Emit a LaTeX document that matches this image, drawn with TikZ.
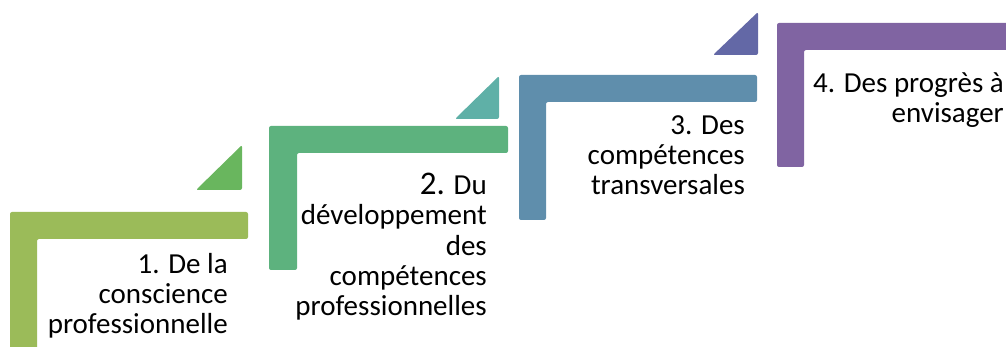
\documentclass[tikz,border=0pt]{standalone}
\usepackage{fontspec}
\setmainfont{Carlito}
\definecolor{cA}{RGB}{155,187,89}
\definecolor{tA}{RGB}{105,182,94}
\definecolor{cB}{RGB}{93,178,126}
\definecolor{tB}{RGB}{95,176,167}
\definecolor{cC}{RGB}{95,142,172}
\definecolor{tC}{RGB}{99,104,166}
\definecolor{cD}{RGB}{128,100,162}
\begin{document}
\begin{tikzpicture}[x=1pt,y=-1pt,
  bar/.style={rounded corners=2pt},
  lbl/.style={inner sep=0pt, align=right, anchor=base east, text=black,
    font=\fontsize{29}{30}\selectfont}]
\useasboundingbox (0,0) rectangle (1006,347);
\clip (0,0) rectangle (1006,347);
% step 1
\fill[cA,bar] (10,212) -- (248,212) -- (248,239) -- (37,239) -- (37,360) -- (10,360) -- cycle;
\fill[tA,bar] (196,190) -- (242,190) -- (242,145) -- cycle;
% step 2
\fill[cB,bar] (269,126) -- (508,126) -- (508,153) -- (297,153) -- (297,270) -- (269,270) -- cycle;
\fill[tB,bar] (455,119) -- (499,119) -- (499,76) -- cycle;
% step 3
\fill[cC,bar] (519,75) -- (757,75) -- (757,102) -- (546,102) -- (546,220) -- (519,220) -- cycle;
\fill[tC,bar] (713,55) -- (758,55) -- (758,12) -- cycle;
% step 4
\fill[cD,bar] (777,23) -- (1020,23) -- (1020,50) -- (804,50) -- (804,167) -- (777,167) -- cycle;
% labels
\node[lbl] (l1) at (228,333) {1. De la\\conscience\\professionnelle};
\node[lbl] (l2) at (487,315) {{\fontsize{33}{30}\selectfont 2.} Du\\développement\\des\\compétences\\professionnelles};
\node[lbl] (l3) at (745,195) {3. Des\\compétences\\transversales};
\node[lbl] (l4) at (1004,123) {4. Des progrès à\\envisager};
\end{tikzpicture}
\end{document}
